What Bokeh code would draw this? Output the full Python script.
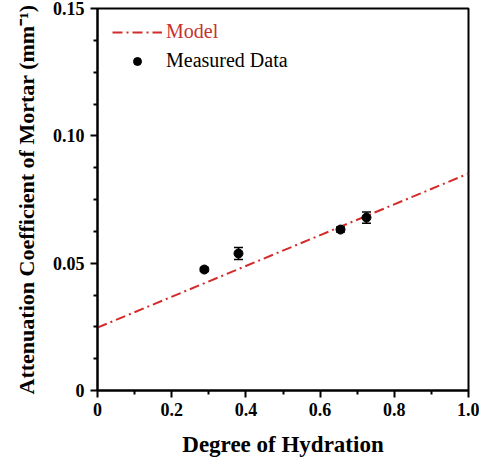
from bokeh.plotting import figure
from bokeh.models import (ColumnDataSource, Range1d, Legend, LegendItem, Whisker,
                          FixedTicker)
from bokeh.embed import file_html
from bokeh.resources import INLINE

# Data
hydration = [0.288, 0.38, 0.655, 0.725]
attenuation = [0.0475, 0.0538, 0.0632, 0.0679]
error = [0.0008, 0.0024, 0.0010, 0.0022]
model_x = [0.0, 1.0]
model_y = [0.0247, 0.0852]

x_ticks = [0, 0.2, 0.4, 0.6, 0.8, 1.0]
x_tick_labels = ["0", "0.2", "0.4", "0.6", "0.8", "1.0"]
y_ticks = [0, 0.05, 0.10, 0.15]
y_tick_labels = ["0", "0.05", "0.10", "0.15"]

FONT = "Liberation Serif"

p = figure(width=479, height=459, output_backend="svg", toolbar_location=None,
           x_range=Range1d(0, 1.0), y_range=Range1d(0, 0.15),
           min_border_left=97, min_border_right=11, min_border_top=8,
           min_border_bottom=69)
p.xgrid.visible = False
p.ygrid.visible = False
p.outline_line_color = "black"
p.outline_line_width = 2
p.background_fill_color = "white"
p.border_fill_color = "white"

src = ColumnDataSource(dict(x=hydration, y=attenuation,
                            lo=[a - e for a, e in zip(attenuation, error)],
                            hi=[a + e for a, e in zip(attenuation, error)]))

model = p.line(model_x, model_y, line_color="#d42a2a", line_width=2,
               line_dash="10 4 2 4")
w = Whisker(source=src, base="x", lower="lo", upper="hi",
            line_color="black", line_width=1.5)
w.upper_head.size = 9
w.lower_head.size = 9
w.upper_head.line_width = 1.5
w.lower_head.line_width = 1.5
p.add_layout(w)
pts = p.scatter("x", "y", source=src, size=9, color="black")

for ax, ticks, labels in ((p.xaxis[0], x_ticks, x_tick_labels),
                          (p.yaxis[0], y_ticks, y_tick_labels)):
    ax.axis_line_width = 2
    ax.major_tick_line_width = 2
    ax.minor_tick_line_width = 2
    ax.major_tick_out = 7
    ax.major_tick_in = 0
    ax.minor_tick_out = 4
    ax.minor_tick_in = 0
    ax.major_label_text_font = FONT
    ax.major_label_text_font_style = "bold"
    ax.major_label_text_font_size = "18px"
    ax.major_label_text_color = "black"
    ax.axis_label_text_font = FONT
    ax.axis_label_text_font_style = "bold"
    ax.axis_label_text_color = "black"
    ax.major_label_overrides = {t: l for t, l in zip(ticks, labels)}

p.xaxis.axis_label_text_font_size = "23px"
p.yaxis.axis_label_text_font_size = "22px"
p.xaxis.ticker = FixedTicker(ticks=x_ticks, minor_ticks=[0.1, 0.3, 0.5, 0.7, 0.9])
p.yaxis.ticker = FixedTicker(ticks=y_ticks,
                             minor_ticks=[0.0125, 0.025, 0.0375, 0.0625, 0.075, 0.0875,
                                          0.1125, 0.125, 0.1375])
p.xaxis.axis_label = "Degree of Hydration"
p.yaxis.axis_label = "Attenuation Coefficient of Mortar (mm\u207b\u00b9)"
p.xaxis.major_label_standoff = 5
p.xaxis.axis_label_standoff = 13
p.yaxis.major_label_standoff = 6
p.yaxis.axis_label_standoff = 11

leg1 = Legend(items=[LegendItem(label="Model", renderers=[model])],
              location=(15, 347), border_line_color=None, background_fill_alpha=0,
              padding=0, margin=0, glyph_width=50, glyph_height=20,
              label_standoff=4, label_text_font=FONT, label_text_font_size="20px",
              label_text_color="#c8312f", label_height=20)
leg2 = Legend(items=[LegendItem(label="Measured Data", renderers=[pts])],
              location=(15, 318), border_line_color=None, background_fill_alpha=0,
              padding=0, margin=0, glyph_width=50, glyph_height=20,
              label_standoff=4, label_text_font=FONT, label_text_font_size="20px",
              label_text_color="black", label_height=20)
p.add_layout(leg1)
p.add_layout(leg2)

open("out.html", "w").write(file_html(p, INLINE))
